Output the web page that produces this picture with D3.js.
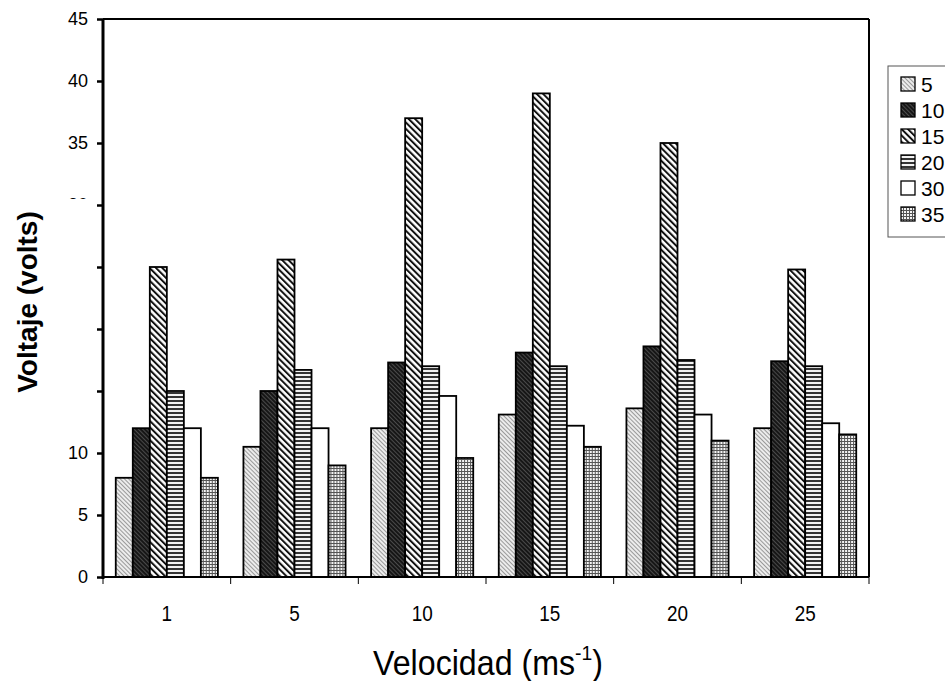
<!DOCTYPE html>
<html>
<head>
<meta charset="utf-8">
<script src="https://cdn.jsdelivr.net/npm/d3@7"></script>
<style>
  body { margin: 0; background: #fff; }
  text { font-family: "Liberation Sans", Arial, sans-serif; }
</style>
</head>
<body>
<div id="chart"></div>
<script>
// velocidad categories (x axis)
var categories = ["1", "5", "10", "15", "20", "25"];
// series names shown in the legend
var seriesNames = ["5", "10", "15", "20", "30", "35"];
// voltaje per category, one array per series
var s5  = [8, 10.5, 12, 13.1, 13.6, 12];
var s10 = [12, 15, 17.3, 18.1, 18.6, 17.4];
var s15 = [25, 25.6, 37, 39, 35, 24.8];
var s20 = [15, 16.7, 17, 17, 17.5, 17];
var s30 = [12, 12, 14.6, 12.2, 13.1, 12.4];
var s35 = [8, 9, 9.6, 10.5, 11, 11.5];
var yTicks = [0, 5, 10, 15, 20, 25, 30, 35, 40, 45];

var seriesValues = [s5, s10, s15, s20, s30, s35];
var patternIds = ["p5", "p10", "p15", "p20", "p30", "p35"];

var width = 945, height = 681;
var plotLeft = 103, plotRight = 869, plotTop = 19, plotBottom = 577;

var svg = d3.select("#chart").append("svg")
  .attr("width", width)
  .attr("height", height);

// fill patterns
var defs = svg.append("defs");

var p5 = defs.append("pattern").attr("id", "p5")
  .attr("patternUnits", "userSpaceOnUse")
  .attr("width", 3).attr("height", 3)
  .attr("patternTransform", "rotate(-45)");
p5.append("rect").attr("width", 3).attr("height", 3).style("fill", "#ececec");
p5.append("rect").attr("width", 1).attr("height", 3).style("fill", "#999");

var p10 = defs.append("pattern").attr("id", "p10")
  .attr("patternUnits", "userSpaceOnUse")
  .attr("width", 3).attr("height", 3)
  .attr("patternTransform", "rotate(-45)");
p10.append("rect").attr("width", 3).attr("height", 3).style("fill", "#161616");
p10.append("rect").attr("width", 1).attr("height", 3).style("fill", "#4a4a4a");

var p15 = defs.append("pattern").attr("id", "p15")
  .attr("patternUnits", "userSpaceOnUse")
  .attr("width", 4.5).attr("height", 4.5)
  .attr("patternTransform", "rotate(-45)");
p15.append("rect").attr("width", 4.5).attr("height", 4.5).style("fill", "#fff");
p15.append("rect").attr("width", 2).attr("height", 4.5).style("fill", "#111");

var p20 = defs.append("pattern").attr("id", "p20")
  .attr("patternUnits", "userSpaceOnUse")
  .attr("width", 4).attr("height", 4);
p20.append("rect").attr("width", 4).attr("height", 4).style("fill", "#f2f2f2");
p20.append("rect").attr("width", 4).attr("height", 2).style("fill", "#333");

var p30 = defs.append("pattern").attr("id", "p30")
  .attr("patternUnits", "userSpaceOnUse")
  .attr("width", 4).attr("height", 4);
p30.append("rect").attr("width", 4).attr("height", 4).style("fill", "#fff");

var p35 = defs.append("pattern").attr("id", "p35")
  .attr("patternUnits", "userSpaceOnUse")
  .attr("width", 3).attr("height", 3);
p35.append("rect").attr("width", 3).attr("height", 3).style("fill", "#f4f4f4");
p35.append("rect").attr("width", 3).attr("height", 1).style("fill", "#555");
p35.append("rect").attr("width", 1).attr("height", 3).style("fill", "#555");

// scales
var x0 = d3.scaleBand()
  .domain(categories)
  .range([plotLeft, plotRight])
  .paddingInner(0.2)
  .paddingOuter(0.1);

var x1 = d3.scaleBand()
  .domain(seriesNames)
  .range([0, x0.bandwidth()]);

var y = d3.scaleLinear()
  .domain([0, 45])
  .range([plotBottom, plotTop]);

// y axis
var yAxis = svg.append("g")
  .attr("transform", "translate(" + plotLeft + ",0)")
  .call(d3.axisLeft(y).tickValues(yTicks).tickSize(6).tickPadding(9));
yAxis.select(".domain").remove();
yAxis.selectAll(".tick line").style("stroke", "#000").style("stroke-width", 2.5);
yAxis.selectAll(".tick text")
  .attr("font-size", "18px")
  .style("font-family", "'Liberation Sans', Arial, sans-serif")
  .style("fill", "#000");

// bars
var groups = svg.append("g").selectAll("g")
  .data(categories)
  .enter()
  .append("g")
  .attr("transform", function(d){
    return "translate(" + x0(d) + ",0)";
  });

groups.selectAll("rect")
  .data(function(d, i){
    return seriesNames.map(function(s, j){
      return {series: s, value: seriesValues[j][i], k: j};
    });
  })
  .enter()
  .append("rect")
  .attr("x", function(d){ return x1(d.series); })
  .attr("y", function(d){ return y(d.value); })
  .attr("width", x1.bandwidth())
  .attr("height", function(d){ return y(0) - y(d.value); })
  .style("fill", function(d){ return "url(#" + patternIds[d.k] + ")"; })
  .style("stroke", "#000")
  .style("stroke-width", 1.8);

// frame: top and right lines
svg.append("line")
  .attr("x1", plotLeft).attr("x2", plotRight)
  .attr("y1", plotTop).attr("y2", plotTop)
  .style("stroke", "#000").style("stroke-width", 2);
svg.append("line")
  .attr("x1", plotRight).attr("x2", plotRight)
  .attr("y1", plotTop).attr("y2", plotBottom)
  .style("stroke", "#000").style("stroke-width", 2);

// x axis
var xAxis = svg.append("g")
  .attr("transform", "translate(0," + plotBottom + ")")
  .call(d3.axisBottom(x0).tickSize(0).tickPadding(28));
xAxis.select(".domain").remove();
xAxis.selectAll(".tick text")
  .attr("font-size", "22px")
  .attr("transform", "scale(0.86,1)")
  .style("fill", "#000");

svg.append("g").selectAll("line")
  .data(d3.range(categories.length + 1))
  .enter()
  .append("line")
  .attr("x1", function(d){ return plotLeft + d * x0.step(); })
  .attr("x2", function(d){ return plotLeft + d * x0.step(); })
  .attr("y1", plotBottom)
  .attr("y2", plotBottom + 7)
  .style("stroke", "#000")
  .style("stroke-width", 1);

svg.append("line")
  .attr("x1", plotLeft).attr("x2", plotRight)
  .attr("y1", plotBottom).attr("y2", plotBottom)
  .style("stroke", "#000").style("stroke-width", 2);
svg.append("line")
  .attr("x1", plotLeft).attr("x2", plotLeft)
  .attr("y1", plotTop).attr("y2", plotBottom + 2)
  .style("stroke", "#000").style("stroke-width", 3);

// y title with its white box (hides some tick labels, as in the original)
svg.append("rect")
  .attr("x", 0).attr("y", 199)
  .attr("width", 92).attr("height", 225)
  .style("fill", "#fff");

svg.append("text")
  .attr("transform", "translate(37,302) rotate(-90)")
  .attr("text-anchor", "middle")
  .attr("font-size", "28px")
  .attr("font-weight", "bold")
  .text("Voltaje (volts)")
  .style("fill", "#000");

// x title
var xt = svg.append("text")
  .attr("transform", "translate(488,675) scale(0.92,1)")
  .attr("x", 0)
  .attr("y", 0)
  .attr("text-anchor", "middle")
  .attr("font-size", "35px")
  .style("fill", "#000");
xt.append("tspan").text("Velocidad (ms");
xt.append("tspan").attr("dy", -15).attr("font-size", "21px").text("-1");
xt.append("tspan").attr("dy", 15).text(")");

// legend
var legend = svg.append("g").attr("transform", "translate(888,66)");
legend.append("rect")
  .attr("x", 0).attr("y", 0)
  .attr("width", 80).attr("height", 171)
  .style("fill", "#fff")
  .style("stroke", "#555")
  .style("stroke-width", 1);

legend.selectAll("rect.sw")
  .data(seriesNames)
  .enter()
  .append("rect")
  .attr("class", "sw")
  .attr("x", 13)
  .attr("y", function(d, i){ return 11 + 26 * i; })
  .attr("width", 14)
  .attr("height", 14)
  .style("fill", function(d, i){ return "url(#" + patternIds[i] + ")"; })
  .style("stroke", "#000")
  .style("stroke-width", 1.3);

legend.selectAll("text")
  .data(seriesNames)
  .enter()
  .append("text")
  .attr("x", 33)
  .attr("y", function(d, i){ return 26 + 26 * i; })
  .attr("font-size", "21px")
  .text(function(d){ return d; })
  .style("fill", "#000");
</script>
</body>
</html>
